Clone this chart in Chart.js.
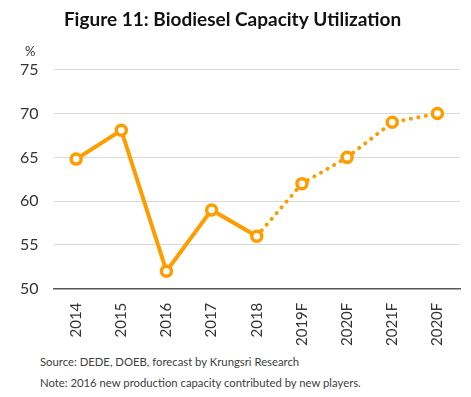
<!DOCTYPE html>
<html>
<head>
<meta charset="utf-8">
<script src="https://cdn.jsdelivr.net/npm/chart.js@4"></script>
<style>
  body { margin: 0; background: #fff; font-family: Lato, sans-serif; }
  #wrap { position: relative; width: 471px; height: 397px; }
  #chartBox { position: absolute; left: 0; top: 0; width: 471px; height: 352px; }
  #unit { position: absolute; left: 25px; top: 43px; font-size: 13px; color: #333; }
  .note { position: absolute; left: 40px; font-size: 11.3px; color: #404040; }
</style>
</head>
<body>
<div id="wrap">
  <div id="chartBox"><canvas id="myChart"></canvas></div>
  <span id="unit">%</span>
  <div class="note" style="top: 355px;">Source: DEDE, DOEB, forecast by Krungsri Research</div>
  <div class="note" style="top: 376px;">Note: 2016 new production capacity contributed by new players.</div>
</div>
<script>
const years = ['2014', '2015', '2016', '2017', '2018', '2019F', '2020F', '2021F', '2020F'];
const utilization = [64.8, 68.1, 52, 59, 56, 62, 65, 69, 70];
const yTicks = [50, 55, 60, 65, 70, 75];
const lastActual = 4; // 2018, after this the line is a forecast

const orange = '#FF9C00';

const ctx = document.getElementById('myChart').getContext('2d');
new Chart(ctx, {
  type: 'line',
  data: {
    labels: years,
    datasets: [{
      data: utilization,
      borderColor: orange,
      borderWidth: 4,
      borderCapStyle: 'round',
      pointRadius: 5,
      pointBorderWidth: 3.5,
      pointBackgroundColor: '#fff',
      pointBorderColor: orange,
      tension: 0,
      segment: {
        borderDash: c => c.p0DataIndex >= lastActual ? [0.1, 7.5] : undefined
      }
    }]
  },
  options: {
    responsive: true,
    maintainAspectRatio: false,
    animation: false,
    layout: { padding: { left: 5, right: 11, top: 4, bottom: 0 } },
    plugins: {
      legend: { display: false },
      tooltip: { enabled: false },
      title: {
        display: true,
        text: 'Figure 11: Biodiesel Capacity Utilization',
        color: '#111',
        font: { family: 'Lato', size: 19, weight: 'bold' },
        padding: { top: 4, bottom: 39 }
      }
    },
    scales: {
      x: {
        offset: true,
        grid: { display: false },
        border: { display: true, color: '#595959', width: 1.5 },
        ticks: {
          minRotation: 90,
          maxRotation: 90,
          padding: 6,
          color: '#333',
          font: { family: 'Lato', size: 15 }
        }
      },
      y: {
        min: 50,
        max: 75,
        afterBuildTicks: axis => { axis.ticks = yTicks.map(v => ({ value: v })); },
        border: { display: false },
        grid: {
          drawTicks: false,
          color: c => c.tick.value === 50 ? 'rgba(0,0,0,0)' : '#d9d9d9',
          lineWidth: 1
        },
        ticks: {
          padding: 15,
          color: '#333',
          font: { family: 'Lato', size: 16 }
        }
      }
    }
  }
});
</script>
</body>
</html>
